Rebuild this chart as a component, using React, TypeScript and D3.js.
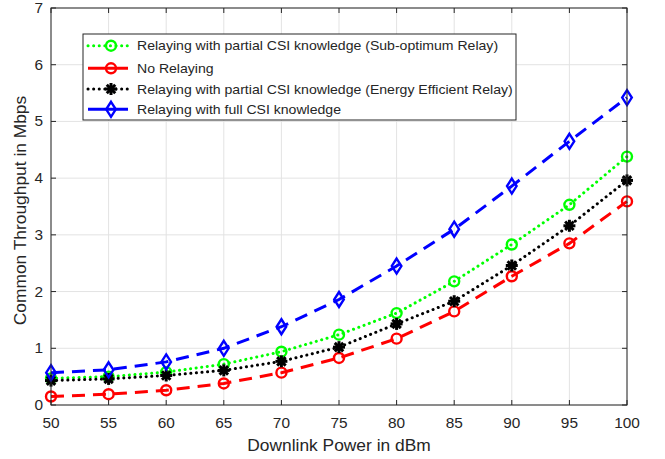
import React from 'react';
import * as d3 from 'd3';

const powers = [50, 55, 60, 65, 70, 75, 80, 85, 90, 95, 100];
const subOptimum = [0.47, 0.5, 0.58, 0.72, 0.94, 1.24, 1.62, 2.18, 2.83, 3.53, 4.38];
const noRelay = [0.15, 0.19, 0.26, 0.38, 0.57, 0.83, 1.17, 1.65, 2.27, 2.85, 3.59];
const energyEff = [0.43, 0.46, 0.52, 0.61, 0.77, 1.02, 1.43, 1.83, 2.46, 3.16, 3.96];
const fullCsi = [0.57, 0.62, 0.76, 1.0, 1.38, 1.86, 2.45, 3.1, 3.86, 4.65, 5.42];
const yTicks = [0, 1, 2, 3, 4, 5, 6, 7];

const SERIES = [
  { name: 'Relaying with partial CSI knowledge (Sub-optimum Relay)', values: subOptimum, color: '#00ff00', dash: '0.1 5.5', cap: 'round', marker: 'circle' },
  { name: 'No Relaying', values: noRelay, color: '#ff0000', dash: '13 8', cap: 'butt', marker: 'circle' },
  { name: 'Relaying with partial CSI knowledge (Energy Efficient Relay)', values: energyEff, color: '#000000', dash: '0.1 5.5', cap: 'round', marker: 'star' },
  { name: 'Relaying with full CSI knowledge', values: fullCsi, color: '#0000ff', dash: '13 8', cap: 'butt', marker: 'diamond' },
];

const W = 665, H = 459;
const M = { left: 51, right: 38, top: 8, bottom: 54 };
const FONT = 'Liberation Sans, Arial, Helvetica, sans-serif';
const TXT = '#262626';
const SX = 1.1; // reference glyphs are a little wider than Liberation Sans

function Marker({ kind, x, y, color }: { kind: string; x: number; y: number; color: string }) {
  if (kind === 'circle') {
    return <circle cx={x} cy={y} r={5} fill="none" stroke={color} strokeWidth={2.4} />;
  }
  if (kind === 'diamond') {
    const p = `${x},${y - 7.5} ${x + 4.8},${y} ${x},${y + 7.5} ${x - 4.8},${y}`;
    return <polygon points={p} fill="none" stroke={color} strokeWidth={2.4} />;
  }
  const r = 6;
  const arms = d3.range(4).map(i => {
    const a = (i * Math.PI) / 4;
    return <line key={i} x1={x - r * Math.cos(a)} y1={y - r * Math.sin(a)} x2={x + r * Math.cos(a)} y2={y + r * Math.sin(a)} stroke={color} strokeWidth={3} />;
  });
  return <g>{arms}<circle cx={x} cy={y} r={3.5} fill={color} /></g>;
}

function Label({ x, y, size, anchor = 'start', rotate = 0, children }: any) {
  return (
    <text transform={`translate(${x},${y}) rotate(${rotate}) scale(${SX},1)`} textAnchor={anchor} fontSize={size} fill={TXT}>
      {children}
    </text>
  );
}

export default function App() {
  const x = d3.scaleLinear().domain([50, 100]).range([M.left, W - M.right]);
  const y = d3.scaleLinear().domain([0, 7]).range([H - M.bottom, M.top]);
  const line = d3.line<number>().x((_, i) => x(powers[i])).y(d => y(d));
  const [x0, x1] = x.range();
  const [y0, y1] = y.range();

  const legend = { x: 83, y: 34, w: 433, h: 86, rows: [45.7, 68.3, 89, 109.3] };

  return (
    <svg width={W} height={H} style={{ position: 'absolute', left: 0, top: 0, background: '#fff' }} fontFamily={FONT}>
      {/* grid */}
      {powers.map(p => <line key={'gx' + p} x1={x(p)} x2={x(p)} y1={y0} y2={y1} stroke="#e3e3e3" strokeWidth={1} />)}
      {yTicks.map(t => <line key={'gy' + t} x1={x0} x2={x1} y1={y(t)} y2={y(t)} stroke="#e3e3e3" strokeWidth={1} />)}

      {/* series */}
      {SERIES.map(s => (
        <g key={s.name}>
          <path d={line(s.values) || ''} fill="none" stroke={s.color} strokeWidth={3} strokeDasharray={s.dash} strokeLinecap={s.cap as any} />
          {s.values.map((v, i) => <Marker key={i} kind={s.marker} x={x(powers[i])} y={y(v)} color={s.color} />)}
        </g>
      ))}

      {/* axes box & ticks */}
      <rect x={x0} y={y1} width={x1 - x0} height={y0 - y1} fill="none" stroke={TXT} strokeWidth={1} />
      {powers.map(p => (
        <g key={'tx' + p}>
          <line x1={x(p)} x2={x(p)} y1={y0} y2={y0 - 5} stroke={TXT} />
          <line x1={x(p)} x2={x(p)} y1={y1} y2={y1 + 5} stroke={TXT} />
          <Label x={x(p)} y={y0 + 23} size={14} anchor="middle">{p}</Label>
        </g>
      ))}
      {yTicks.map(t => (
        <g key={'ty' + t}>
          <line x1={x0} x2={x0 + 5} y1={y(t)} y2={y(t)} stroke={TXT} />
          <line x1={x1} x2={x1 - 5} y1={y(t)} y2={y(t)} stroke={TXT} />
          <Label x={x0 - 8} y={y(t) + 5} size={14} anchor="end">{t}</Label>
        </g>
      ))}

      {/* axis titles */}
      <Label x={(x0 + x1) / 2} y={451} size={15.8} anchor="middle">Downlink Power in dBm</Label>
      <Label x={26} y={(y0 + y1) / 2 + 4} size={15.8} anchor="middle" rotate={-90}>Common Throughput in Mbps</Label>

      {/* legend */}
      <rect x={legend.x} y={legend.y} width={legend.w} height={legend.h} fill="#fff" stroke={TXT} strokeWidth={1} />
      {SERIES.map((s, i) => {
        const ly = legend.rows[i];
        const solid = s.cap === 'butt';
        return (
          <g key={'lg' + i}>
            <line x1={88} x2={128} y1={ly} y2={ly} stroke={s.color} strokeWidth={3} strokeDasharray={solid ? undefined : s.dash} strokeLinecap={s.cap as any} />
            <Marker kind={s.marker} x={111} y={ly} color={s.color} />
            <Label x={137} y={ly + 4.5} size={12.8}>{s.name}</Label>
          </g>
        );
      })}
    </svg>
  );
}
